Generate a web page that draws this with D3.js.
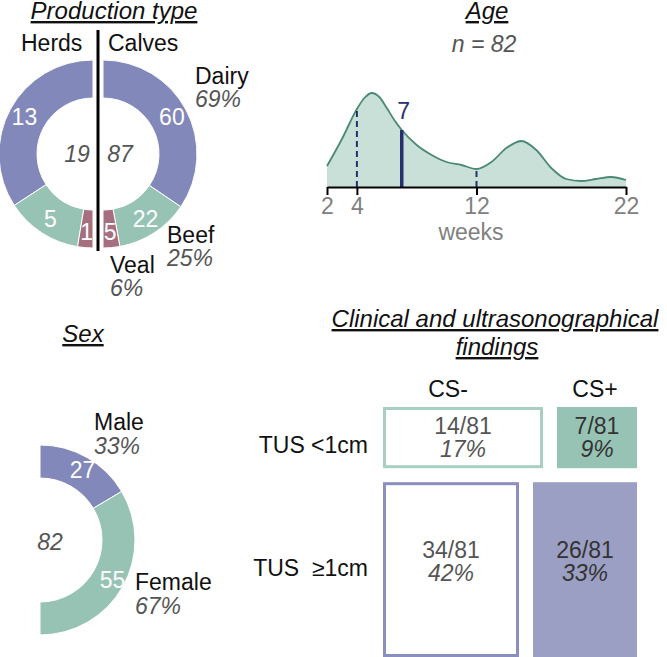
<!DOCTYPE html>
<html>
<head>
<meta charset="utf-8">
<script src="https://cdn.jsdelivr.net/npm/d3@7"></script>
<style>
  body { margin: 0; background: #fff; }
  svg { display: block; font-family: "Liberation Sans", Arial, sans-serif; }
  .title { font-size: 24px; font-style: italic; text-decoration: underline; fill: #111; }
  .lbl { font-size: 23px; fill: #111; }
  .pct { font-size: 23px; font-style: italic; fill: #555; }
  .inring { font-size: 23px; fill: #fff; }
</style>
</head>
<body>
<div id="chart"></div>
<script>
// production type
const prodCategories = ["Dairy", "Beef", "Veal"];
const herdCounts = [13, 5, 1];
const calfCounts = [60, 22, 5];
const prodPercents = ["69%", "25%", "6%"];

// sex
const sexCategories = ["Male", "Female"];
const sexCounts = [27, 55];
const sexPercents = ["33%", "67%"];

// age (density)
const ageN = 82;
const ageWeeks   = [2, 3, 4, 4.5, 5, 5.5, 6, 6.5, 7, 8, 9, 10, 11, 12, 13, 14, 15, 16, 17, 18, 19, 20, 21, 22];
const ageDensity = [0.021, 0.048, 0.078, 0.089, 0.094, 0.090, 0.079, 0.067, 0.057, 0.042, 0.032, 0.025, 0.022, 0.018,
                    0.025, 0.039, 0.046, 0.037, 0.019, 0.008, 0.006, 0.008, 0.010, 0.007];
const ageTicks = [2, 4, 12, 22];
const ageQuartiles = [4, 12];
const ageMedian = 7;

// clinical / ultrasonographical
const tusRows = ["TUS <1cm", "TUS  \u22651cm"];
const csCols = ["CS-", "CS+"];
const tusCounts = [[14, 7], [34, 26]];
const tusTotal = 81;
const tusPercents = [["17%", "9%"], ["42%", "33%"]];

const purple = "#8288b9", teal = "#97c3b5", mauve = "#a66f80";
const prodColor = d3.scaleOrdinal().domain(prodCategories).range([purple, teal, mauve]);
const sexColor = d3.scaleOrdinal().domain(sexCategories).range([purple, teal]);
const navy = "#26306c";

const width = 667, height = 657;
const svg = d3.select("#chart").append("svg")
    .attr("width", width)
    .attr("height", height);

// ---------- Production type ----------
svg.append("text").attr("class", "title")
    .attr("x", 114).attr("y", 19).attr("text-anchor", "middle")
    .text("Production type");

const prodCy = 154, rIn = 56, rOut = 94;
const prodArc = d3.arc().innerRadius(rIn).outerRadius(rOut);
const labelArc = d3.arc().innerRadius(78).outerRadius(78);

function halfDonut(counts, cx, a0, a1) {
    const arcs = d3.pie().sort(null).startAngle(a0).endAngle(a1)(counts)
        .map((a, i) => Object.assign(a, { cat: prodCategories[i] }));
    const g = svg.append("g").attr("transform", `translate(${cx},${prodCy})`);
    g.selectAll("path").data(arcs).join("path")
        .attr("d", prodArc)
        .attr("fill", d => prodColor(d.cat))
        .attr("stroke", "#fff")
        .attr("stroke-width", 1);
    g.selectAll("text.inring").data(arcs).join("text")
        .attr("class", "inring")
        .attr("text-anchor", "middle")
        .attr("transform", d => { const c = labelArc.centroid(d); return `translate(${c[0]},${c[1] + 8})`; })
        .text(d => d.data);
    g.append("text").attr("class", "pct")
        .attr("x", a1 < 0 ? -16 : 17).attr("y", 8)
        .attr("text-anchor", "middle")
        .text(d3.sum(counts));
}
halfDonut(herdCounts, 93, 0, -Math.PI);
halfDonut(calfCounts, 103, 0, Math.PI);

svg.append("line")
    .attr("x1", 98).attr("x2", 98).attr("y1", 30).attr("y2", 251)
    .attr("stroke", "#000").attr("stroke-width", 3);
svg.append("text").attr("class", "lbl").attr("x", 21).attr("y", 51).text("Herds");
svg.append("text").attr("class", "lbl").attr("x", 108).attr("y", 51).text("Calves");

const prodLabelPos = [[195, 84], [167, 243], [110, 273]];
prodCategories.forEach((c, i) => {
    svg.append("text").attr("class", "lbl").attr("x", prodLabelPos[i][0]).attr("y", prodLabelPos[i][1]).text(c);
    svg.append("text").attr("class", "pct").attr("x", prodLabelPos[i][0]).attr("y", prodLabelPos[i][1] + 23).text(prodPercents[i]);
});

// ---------- Age ----------
svg.append("text").attr("class", "title")
    .attr("x", 487).attr("y", 19).attr("text-anchor", "middle").text("Age");
svg.append("text").attr("class", "pct")
    .attr("x", 484).attr("y", 52).attr("text-anchor", "middle").text("n = " + ageN);

const ageBase = 187;
const x = d3.scaleLinear().domain([2, 22]).range([327, 626]);
const y = d3.scaleLinear().domain([0, 0.1]).range([ageBase, 87]);
const agePts = ageWeeks.map((w, i) => [w, ageDensity[i]]);

svg.append("path").datum(agePts)
    .attr("fill", "#c9e0d8")
    .attr("d", d3.area().curve(d3.curveMonotoneX).x(d => x(d[0])).y0(ageBase).y1(d => y(d[1])));
svg.append("path").datum(agePts)
    .attr("fill", "none").attr("stroke", "#4a8a72").attr("stroke-width", 1.8)
    .attr("d", d3.line().curve(d3.curveMonotoneX).x(d => x(d[0])).y(d => y(d[1])));

const densAt = w => ageDensity[ageWeeks.indexOf(w)];
svg.selectAll("line.q").data(ageQuartiles).join("line")
    .attr("x1", d => x(d)).attr("x2", d => x(d))
    .attr("y1", ageBase).attr("y2", d => y(densAt(d)))
    .attr("stroke", navy).attr("stroke-width", 2).attr("stroke-dasharray", "6,4");
svg.append("line")
    .attr("x1", x(ageMedian)).attr("x2", x(ageMedian))
    .attr("y1", ageBase).attr("y2", y(densAt(ageMedian)))
    .attr("stroke", navy).attr("stroke-width", 3.5);
svg.append("text").attr("x", x(ageMedian) + 2).attr("y", 119)
    .attr("text-anchor", "middle").attr("fill", navy).attr("font-size", 23)
    .text(ageMedian);

const ax = svg.append("g").attr("transform", `translate(0,${ageBase})`)
    .call(d3.axisBottom(x).tickValues(ageTicks).tickSize(8).tickSizeOuter(0).tickFormat(d3.format("d")));
ax.select(".domain").attr("stroke", "#000").attr("stroke-width", 2);
ax.selectAll(".tick line").attr("stroke", "#000").attr("stroke-width", 2);
ax.selectAll(".tick text").attr("fill", "#808080").attr("font-size", 23)
    .attr("font-family", "Liberation Sans, Arial, sans-serif").attr("y", 11);
svg.append("text").attr("x", 471).attr("y", 240).attr("text-anchor", "middle")
    .attr("fill", "#808080").attr("font-size", 23).text("weeks");

// ---------- Sex ----------
svg.append("text").attr("class", "title")
    .attr("x", 83).attr("y", 342).attr("text-anchor", "middle").text("Sex");

const sexArcs = d3.pie().sort(null).startAngle(0).endAngle(Math.PI)(sexCounts)
    .map((a, i) => Object.assign(a, { cat: sexCategories[i] }));
const sexArc = d3.arc().innerRadius(62).outerRadius(95);
const sexLabelArc = d3.arc().innerRadius(80).outerRadius(80);
const gs = svg.append("g").attr("transform", "translate(40,540)");
gs.selectAll("path").data(sexArcs).join("path")
    .attr("d", sexArc).attr("fill", d => sexColor(d.cat))
    .attr("stroke", "#fff").attr("stroke-width", 1);
gs.selectAll("text.inring").data(sexArcs).join("text")
    .attr("class", "inring").attr("text-anchor", "middle")
    .attr("transform", d => { const c = sexLabelArc.centroid(d); return `translate(${c[0] + 3},${c[1] + 8})`; })
    .text(d => d.data);
gs.append("text").attr("class", "pct").attr("x", 10).attr("y", 10)
    .attr("text-anchor", "middle").text(d3.sum(sexCounts));

const sexLabelPos = [[94, 430], [135, 590]];
sexCategories.forEach((c, i) => {
    svg.append("text").attr("class", "lbl").attr("x", sexLabelPos[i][0]).attr("y", sexLabelPos[i][1]).text(c);
    svg.append("text").attr("class", "pct").attr("x", sexLabelPos[i][0]).attr("y", sexLabelPos[i][1] + 24).text(sexPercents[i]);
});

// ---------- Clinical and ultrasonographical findings ----------
svg.append("text").attr("class", "title")
    .attr("x", 495).attr("y", 327).attr("text-anchor", "middle").text("Clinical and ultrasonographical");
svg.append("text").attr("class", "title")
    .attr("x", 497).attr("y", 355).attr("text-anchor", "middle").text("findings");

const mx0 = 383, mW = 254, gap = 14, my0 = 407, mH = 250;
const rowTotals = tusCounts.map(r => d3.sum(r));
const yRow = d3.scaleLinear().domain([0, d3.sum(rowTotals)]).range([0, mH - gap]);
const rowColors = [teal, "#9c9fc4"];
const rowStroke = ["#a8d0c2", "#8a8fbd"];

let yCursor = my0;
const rowY = [];
tusCounts.forEach((row, ri) => {
    const h = yRow(rowTotals[ri]);
    rowY.push([yCursor, h]);
    const xs = d3.scaleLinear().domain([0, rowTotals[ri]]).range([0, mW - gap]);
    let xc = mx0;
    row.forEach((v, ci) => {
        const w = xs(v);
        const filled = ci === 1;
        svg.append("rect")
            .attr("x", filled ? xc : xc + 1.5).attr("y", filled ? yCursor : yCursor + 1.5)
            .attr("width", filled ? w : w - 3).attr("height", filled ? h : h - 3)
            .attr("fill", filled ? rowColors[ri] : "#fff")
            .attr("stroke", filled ? "none" : rowStroke[ri])
            .attr("stroke-width", 3);
        const cx = xc + w / 2, cy = yCursor + h / 2 - (ri === 1 ? 8 : 0);
        svg.append("text").attr("x", cx).attr("y", cy - 4).attr("text-anchor", "middle")
            .attr("font-size", 23).attr("fill", filled ? "#333" : "#555")
            .text(v + "/" + tusTotal);
        svg.append("text").attr("x", cx).attr("y", cy + 19).attr("text-anchor", "middle")
            .attr("font-size", 23).attr("font-style", "italic").attr("fill", filled ? "#333" : "#555")
            .text(tusPercents[ri][ci]);
        xc += w + gap;
    });
    yCursor += h + gap;
});

const colX = [448, 595];
csCols.forEach((c, i) => {
    svg.append("text").attr("class", "lbl").attr("x", colX[i]).attr("y", 397)
        .attr("text-anchor", "middle").text(c);
});
tusRows.forEach((r, i) => {
    svg.append("text").attr("class", "lbl")
        .attr("x", 368).attr("y", rowY[i][0] + rowY[i][1] / 2 + (i === 0 ? 15 : 6))
        .attr("text-anchor", "end").style("white-space", "pre").text(r);
});
</script>
</body>
</html>
